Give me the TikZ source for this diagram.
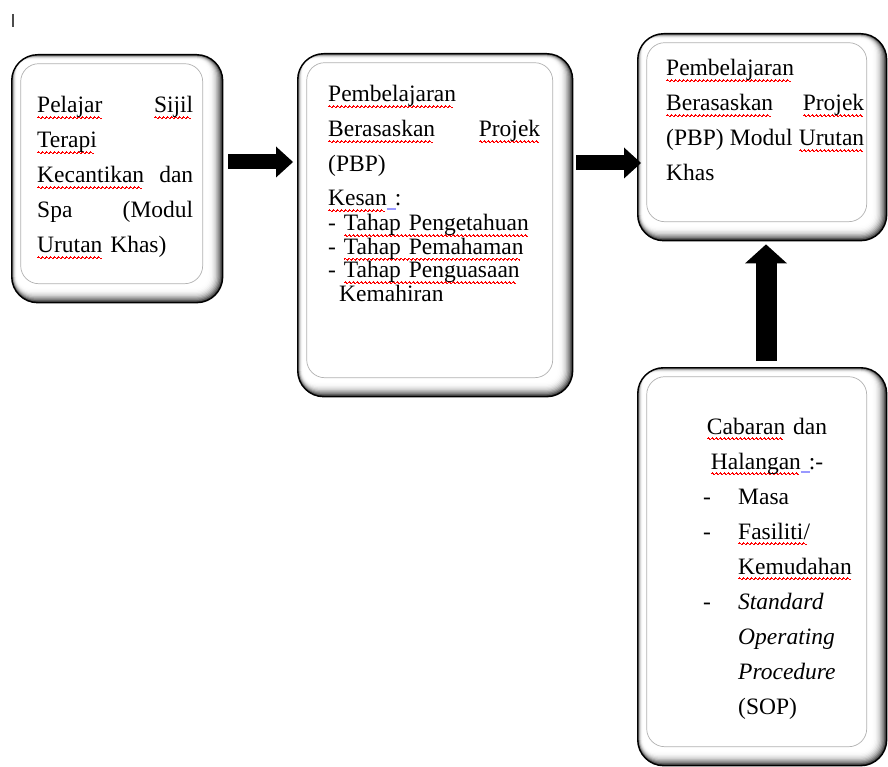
\documentclass[tikz,border=0pt]{standalone}
\usepackage{fontspec}
\setmainfont{Liberation Serif}
\usetikzlibrary{arrows.meta}

% red wavy underline for flagged words: wave periods built from small rules
\newcommand\wv{\rule[0pt]{.5pt}{.8pt}\rule[.6pt]{.5pt}{.8pt}\rule[1.1pt]{.5pt}{.8pt}\rule[.6pt]{.5pt}{.8pt}%
  \rule[0pt]{.5pt}{.8pt}\rule[-.6pt]{.5pt}{.8pt}\rule[-1.1pt]{.5pt}{.8pt}\rule[-.6pt]{.5pt}{.8pt}}
\newcount\wvn
\def\wvloop{\ifnum\wvn>0 \wv\advance\wvn by -1 \expandafter\wvloop\fi}
\newsavebox\sqbox
\newcommand\sq[1]{\leavevmode\sbox\sqbox{#1}%
  \wvn=\wd\sqbox \divide\wvn by 262144
  \rlap{\textcolor{red}{\lower5pt\hbox{\wvloop}}}\usebox\sqbox}
% small blue grammar mark
\newcommand\gm{\rlap{\textcolor{blue!40}{\rule[-4pt]{9pt}{2.2pt}}}}

\tikzset{
  bevel/.style={draw=black, line width=1.4pt, rounded corners=26pt, inner sep=0pt, fill=white,
    path picture={
      \foreach \k in {0,...,11}{
        \pgfmathsetmacro\c{80*(1-\k/11)^2.5}
        \pgfmathsetmacro\r{max(26-1.3*\k,8)}
        \fill[black!\c, rounded corners=\r pt]
          ([shift={({0.5*\k*1pt},{-0.5*\k*1pt})}]path picture bounding box.north west) rectangle
          ([shift={({-1.35*\k*1pt},{1.35*\k*1pt})}]path picture bounding box.south east);
      }
      \draw[black!30, line width=0.7pt, rounded corners=18pt]
        ([shift={(9pt,-9pt)}]path picture bounding box.north west) rectangle
        ([shift={(-20pt,19pt)}]path picture bounding box.south east);
    }},
  txt/.style={inner sep=0pt, align=left, anchor=base west, font=\fontsize{23.5}{35}\selectfont},
  blkh/.style={line width=15pt, -{Triangle[width=31pt,length=17pt,line width=0pt]}},
  blkv/.style={line width=21pt, -{Triangle[width=42pt,length=19pt,line width=0pt]}}
}

\begin{document}
\begin{tikzpicture}[x=1pt,y=-1pt]
\useasboundingbox[fill=white] (0,0) rectangle (888,767);

% text cursor mark
\draw[black!70, line width=1.6pt] (13,14) -- (13,27);

% boxes
\node[bevel, minimum width=211pt, minimum height=248pt, anchor=north west] (b1) at (11,54) {};
\node[bevel, minimum width=275pt, minimum height=343pt, anchor=north west] (b2) at (297,53) {};
\node[bevel, minimum width=249pt, minimum height=207pt, anchor=north west] (b3) at (637,33) {};
\node[bevel, minimum width=249pt, minimum height=398pt, anchor=north west] (b4) at (637,367) {};

% box texts
\node[txt, text width=156pt] (t1) at (37,113)
  {\sq{Pelajar}\hfill\sq{Sijil}\\ \sq{Terapi}\\ \sq{Kecantikan}\hfill dan\\ Spa\hfill(Modul\\ \sq{Urutan} Khas)};

\node[txt, text width=212pt] (t2) at (328,102)
  {\sq{Pembelajaran}\\ \sq{Berasaskan}\hfill\sq{Projek}\\ (PBP)\\[-1pt] \sq{Kesan}\gm{} :};
\node[txt, text width=212pt, font=\fontsize{23.5}{23.5}\selectfont] (t2l) at (328,231)
  {- \sq{Tahap Pengetahuan}\\ - \sq{Tahap Pemahaman}\\ - \sq{Tahap Penguasaan}\\ \hspace*{11pt}Kemahiran};

\node[txt, text width=198pt] (t3) at (666,76)
  {\sq{Pembelajaran}\\ \sq{Berasaskan}\hfill\sq{Projek}\\ (PBP)\hfill Modul\hfill\sq{Urutan}\\ Khas};

\node[txt, text width=140pt, align=center, anchor=base] (t4) at (767,434)
  {\sq{Cabaran} dan\\ \sq{Halangan}\gm{} :-};
\node[txt, text width=170pt] (t4l) at (703,504)
  {\makebox[35pt][l]{-}Masa\\
   \makebox[35pt][l]{-}\sq{Fasiliti/}\\
   \hspace*{35pt}\sq{Kemudahan}\\
   \makebox[35pt][l]{-}\textit{Standard}\\
   \hspace*{35pt}\textit{Operating}\\
   \hspace*{35pt}\textit{Procedure}\\
   \hspace*{35pt}(SOP)};

% connectors
\coordinate (ay1) at (0,162);
\coordinate (ay2) at (0,163);
\coordinate (ax) at (766,0);
\draw[blkh, shorten <=5pt, shorten >=4pt] (b1.east |- ay1) -- (b2.west |- ay1);
\draw[blkh, shorten <=3pt, shorten >=-4pt] (b2.east |- ay2) -- (b3.west |- ay2);
\draw[blkv, shorten <=6pt, shorten >=3pt] (ax |- b4.north) -- (ax |- b3.south);
\end{tikzpicture}
\end{document}
